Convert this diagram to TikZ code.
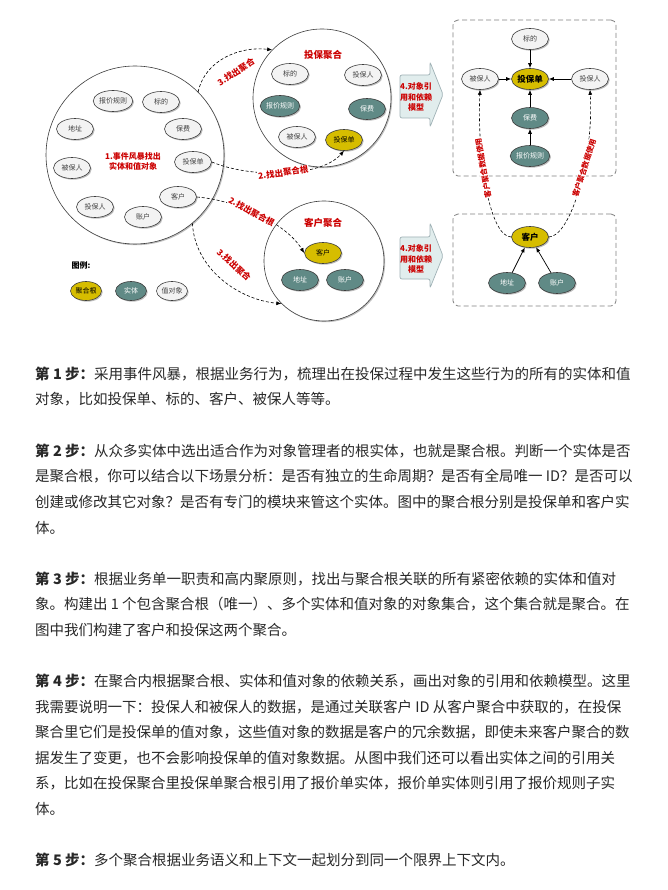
\documentclass[tikz,border=0pt]{standalone}
\usepackage{fontspec}
\setmainfont{Noto Sans CJK SC}
\usetikzlibrary{shapes.geometric,shadows,arrows.meta}
\definecolor{rootc}{RGB}{214,189,0}
\definecolor{entc}{RGB}{96,138,134}
\definecolor{valc}{RGB}{243,243,243}
\definecolor{redt}{RGB}{204,0,0}
\definecolor{arrf}{RGB}{225,237,237}
\definecolor{arrd}{RGB}{160,178,182}
\definecolor{boxd}{RGB}{128,128,128}
\definecolor{bodyt}{RGB}{40,40,40}
\definecolor{edged}{RGB}{60,60,60}
\begin{document}
\begin{tikzpicture}[x=1pt,y=-1pt,
  shd/.style={drop shadow={shadow xshift=1.2pt,shadow yshift=-1.2pt,fill=black,opacity=0.25}},
  elli/.style={ellipse, draw=edged, line width=0.6pt, minimum width=37pt, minimum height=21pt, inner sep=0pt, font=\fontsize{7}{8}\selectfont, shd},
  val/.style={elli, fill=valc, text=black!75},
  ent/.style={elli, fill=entc, text=white},
  root/.style={elli, fill=rootc, text=black},
  bigc/.style={circle, draw=edged, line width=0.6pt, fill=white, inner sep=0pt, shd},
  ttl/.style={font=\bfseries\fontsize{9.5}{11}\selectfont, text=redt, inner sep=0pt},
  lab/.style={font=\bfseries\fontsize{8.5}{10}\selectfont, text=redt, inner sep=0.5pt},
  slab/.style={font=\bfseries\fontsize{7.5}{8}\selectfont, text=redt, inner sep=0.5pt, fill=white},
  dasharr/.style={draw=black, line width=0.6pt, dash pattern=on 3pt off 2pt, -{Latex[length=5pt,width=4pt]}},
  solarr/.style={draw=black, line width=0.7pt, -{Latex[length=5pt,width=4pt]}},
  dbox/.style={draw=boxd, line width=0.8pt, dash pattern=on 5pt off 3pt, rounded corners=5pt, inner sep=0pt},
  blockarr/.style={fill=arrf, draw=arrd, line width=0.7pt, rounded corners=2pt},
  bline/.style={anchor=west, inner sep=0pt, font=\fontsize{14.5}{17}\selectfont, text=bodyt},
]
\useasboundingbox[fill=white] (0,0) rectangle (667,890);

% ---- event storming circle
\node[bigc, minimum size=178pt] (evc) at (135,155) {};
\node[val] (e1) at (113,101) {报价规则};
\node[val] (e2) at (161,102) {标的};
\node[val] (e3) at (75,129) {地址};
\node[val] (e4) at (183,129) {保费};
\node[val] (e5) at (193,162) {投保单};
\node[val] (e6) at (72,168) {被保人};
\node[val] (e7) at (178,197) {客户};
\node[val] (e8) at (95,207) {投保人};
\node[val] (e9) at (143,217) {账户};
\node[ttl, font=\bfseries\fontsize{8}{10}\selectfont, align=center] (evt) at (133,161) {1.事件风暴找出\\实体和值对象};

% ---- aggregate 1
\node[bigc, minimum size=138pt] (agg1) at (322,98) {};
\node[ttl] (a1t) at (323,55) {投保聚合};
\node[val] (a1-bd) at (290,74) {标的};
\node[val] (a1-tbr) at (363,75) {投保人};
\node[ent] (a1-bjgz) at (280,106) {报价规则};
\node[ent] (a1-bf) at (367,109) {保费};
\node[val] (a1-bbr) at (297,137) {被保人};
\node[root] (a1-tbd) at (344,140) {投保单};

% ---- aggregate 2
\node[bigc, minimum size=120pt] (agg2) at (324,261) {};
\node[ttl] (a2t) at (323,223) {客户聚合};
\node[root] (a2-kh) at (323,253) {客户};
\node[ent] (a2-dz) at (300,280) {地址};
\node[ent] (a2-zh) at (345,280) {账户};

% ---- connectors left
\draw[dasharr] (evc.45) .. controls (205,60) and (240,46) .. (agg1.136);
\node[lab, rotate=33] (l3a) at (236,72) {3.找出聚合};
\draw[dasharr] (e5.east) .. controls (250,178) and (320,178) .. (a1-tbd.south) node[lab, fill=white, pos=0.5, rotate=8] (l2a) {2.找出聚合根};
\draw[dasharr] (e7.east) .. controls (235,200) and (285,222) .. (a2-kh.west) node[lab, fill=white, pos=0.45, rotate=-29] (l2b) {2.找出聚合根};
\draw[dasharr] (evc.-50) .. controls (195,270) and (240,300) .. (agg2.225);
\node[lab, rotate=-42] (l3b) at (234,265) {3.找出聚合};

% ---- legend
\node[font=\bfseries\fontsize{8}{9}\selectfont, inner sep=0pt] (lg) at (81,265) {图例:};
\node[root, minimum width=31pt, minimum height=19pt] (lg1) at (86,291) {聚合根};
\node[ent, minimum width=31pt, minimum height=19pt] (lg2) at (131,291) {实体};
\node[val, minimum width=31pt, minimum height=19pt] (lg3) at (172,291) {值对象};

% ---- block arrows
\draw[blockarr] (400,75) -- (430,75) -- (430,62) -- (443,94.5) -- (430,127) -- (430,118) -- (400,118) -- cycle;
\node[lab, align=center, font=\bfseries\fontsize{8}{10.5}\selectfont] (arr1t) at (416,97) {4.对象引\\用和依赖\\模型};
\draw[blockarr] (400,237) -- (430,237) -- (430,223) -- (443,256) -- (430,288) -- (430,279) -- (400,279) -- cycle;
\node[lab, align=center, font=\bfseries\fontsize{8}{10.5}\selectfont] (arr2t) at (416,259) {4.对象引\\用和依赖\\模型};

% ---- right model boxes
\node[dbox, minimum width=163pt, minimum height=156pt] (box1) at (534.5,98) {};
\node[val] (r-bd) at (530,39) {标的};
\node[val] (r-bbr) at (480,79) {被保人};
\node[root, font=\bfseries\fontsize{8.5}{10}\selectfont] (r-tbd) at (530,79) {投保单};
\node[val] (r-tbr) at (590,79) {投保人};
\node[ent] (r-bf) at (530,118) {保费};
\node[ent] (r-bjgz) at (530,156) {报价规则};
\draw[solarr] (r-bd) -- (r-tbd);
\draw[solarr] (r-bbr) -- (r-tbd);
\draw[solarr] (r-tbr) -- (r-tbd);
\draw[solarr] (r-bf) -- (r-tbd);
\draw[solarr] (r-bjgz) -- (r-bf);

\node[dbox, minimum width=163pt, minimum height=92pt] (box2) at (534.5,260) {};
\node[root, font=\bfseries\fontsize{8.5}{10}\selectfont] (r-kh) at (530,237) {客户};
\node[ent] (r-dz) at (507,283) {地址};
\node[ent] (r-zh) at (557,283) {账户};
\draw[solarr] (r-dz) -- (r-kh);
\draw[solarr] (r-zh) -- (r-kh);

\draw[dasharr] (r-kh.west) .. controls (490,237) and (477,160) .. (r-bbr.south) node[slab, pos=0.62, rotate=100] (lb1) {客户聚合数据使用};
\draw[dasharr] (r-kh.east) .. controls (570,237) and (594,160) .. (r-tbr.south) node[slab, pos=0.62, rotate=72] (lb2) {客户聚合数据使用};

% ---- body text
\node[bline] (t1) at (35,374) {\textbf{第 1 步：}采用事件风暴，根据业务行为，梳理出在投保过程中发生这些行为的所有的实体和值};
\node[bline] (t2) at (35,399.6) {对象，比如投保单、标的、客户、被保人等等。};
\node[bline] (t3) at (35,450.8) {\textbf{第 2 步：}从众多实体中选出适合作为对象管理者的根实体，也就是聚合根。判断一个实体是否};
\node[bline] (t4) at (35,476.4) {是聚合根，你可以结合以下场景分析：是否有独立的生命周期？是否有全局唯一 ID？是否可以};
\node[bline] (t5) at (35,502) {创建或修改其它对象？是否有专门的模块来管这个实体。图中的聚合根分别是投保单和客户实};
\node[bline] (t6) at (35,527.6) {体。};
\node[bline] (t7) at (35,578.8) {\textbf{第 3 步：}根据业务单一职责和高内聚原则，找出与聚合根关联的所有紧密依赖的实体和值对};
\node[bline] (t8) at (35,604.4) {象。构建出 1 个包含聚合根（唯一）、多个实体和值对象的对象集合，这个集合就是聚合。在};
\node[bline] (t9) at (35,630) {图中我们构建了客户和投保这两个聚合。};
\node[bline] (t10) at (35,681.2) {\textbf{第 4 步：}在聚合内根据聚合根、实体和值对象的依赖关系，画出对象的引用和依赖模型。这里};
\node[bline] (t11) at (35,706.8) {我需要说明一下：投保人和被保人的数据，是通过关联客户 ID 从客户聚合中获取的，在投保};
\node[bline] (t12) at (35,732.4) {聚合里它们是投保单的值对象，这些值对象的数据是客户的冗余数据，即使未来客户聚合的数};
\node[bline] (t13) at (35,758) {据发生了变更，也不会影响投保单的值对象数据。从图中我们还可以看出实体之间的引用关};
\node[bline] (t14) at (35,783.6) {系，比如在投保聚合里投保单聚合根引用了报价单实体，报价单实体则引用了报价规则子实};
\node[bline] (t15) at (35,809.2) {体。};
\node[bline] (t16) at (35,860.4) {\textbf{第 5 步：}多个聚合根据业务语义和上下文一起划分到同一个限界上下文内。};
\end{tikzpicture}
\end{document}
